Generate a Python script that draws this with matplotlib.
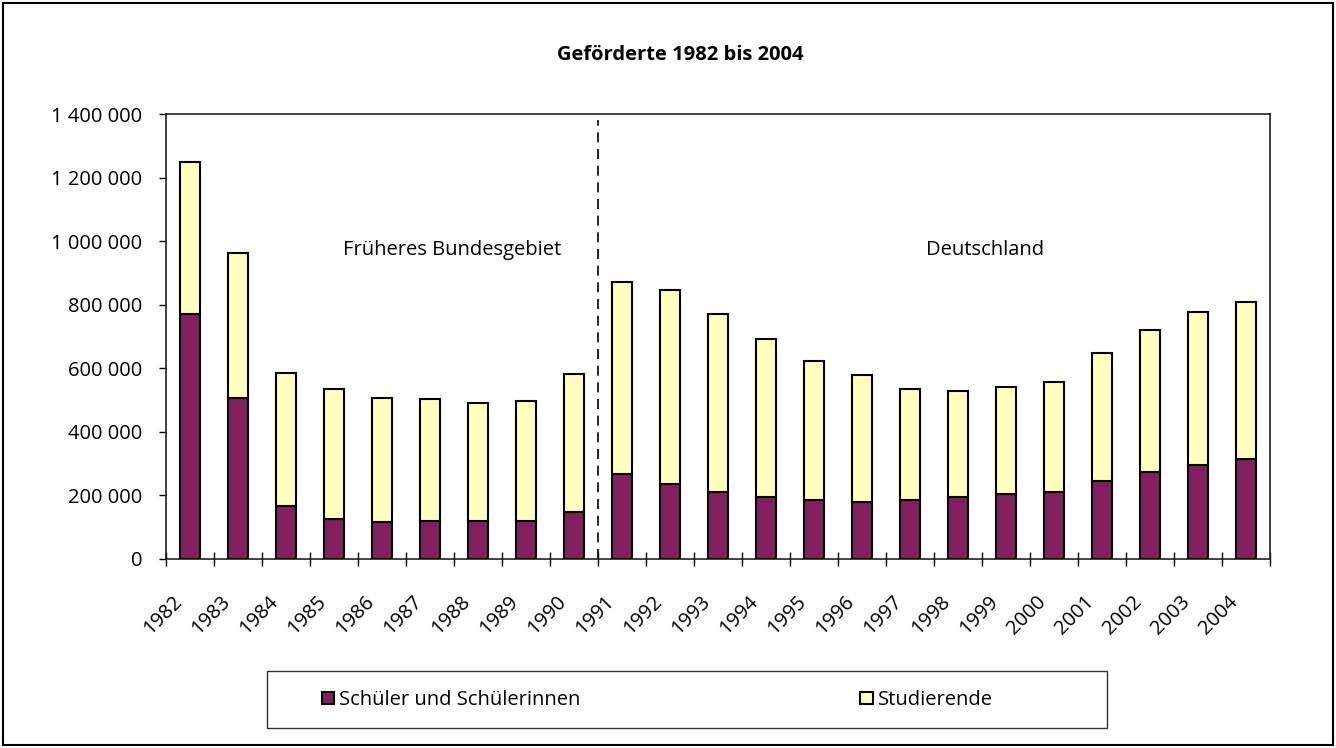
import matplotlib
matplotlib.use("Agg")
import matplotlib.pyplot as plt
import numpy as np
from matplotlib.patches import Rectangle
from matplotlib.transforms import ScaledTranslation
from matplotlib.ticker import FuncFormatter

years = ["1982", "1983", "1984", "1985", "1986", "1987", "1988", "1989", "1990",
         "1991", "1992", "1993", "1994", "1995", "1996", "1997", "1998", "1999",
         "2000", "2001", "2002", "2003", "2004"]
totals = [1250000, 963000, 585000, 536000, 506000, 502000, 491000, 498000, 583000,
          873000, 845000, 770000, 692000, 624000, 578000, 535000, 528000, 542000,
          558000, 648000, 720000, 776000, 807000]
schueler = [771000, 506000, 167000, 126000, 116000, 118000, 121000, 121000, 149000,
            267000, 236000, 210000, 195000, 185000, 180000, 185000, 196000, 204000,
            211000, 246000, 273000, 296000, 314000]
studierende = [t - s for t, s in zip(totals, schueler)]

yticks = [0, 200000, 400000, 600000, 800000, 1000000, 1200000, 1400000]

plt.rcParams['font.family'] = ['Open Sans', 'DejaVu Sans']
PURPLE = "#80205F"
YELLOW = "#FFFFC0"
FS = 14.5

fig = plt.figure(figsize=(13.36, 7.48), dpi=100)
ax = fig.add_axes([166/1336, 1-559/748, (1270-166)/1336, (559-114)/748])

x = np.arange(len(years))
ax.bar(x, schueler, width=0.4, color=PURPLE, edgecolor="black", linewidth=1.5,
       label="Schüler und Schülerinnen", zorder=3)
ax.bar(x, studierende, width=0.4, bottom=schueler, color=YELLOW, edgecolor="black",
       linewidth=1.5, label="Studierende", zorder=3)

ax.set_xlim(-0.5, len(years) - 0.5)
ax.set_ylim(0, 1400000)
ax.set_yticks(yticks)
ax.yaxis.set_major_formatter(FuncFormatter(lambda v, p: f"{int(v):,}".replace(",", " ")))
ax.tick_params(axis='y', direction='out', length=5, width=1, labelsize=FS, pad=12)

ax.set_xticks(np.arange(len(years) + 1) - 0.5)
ax.set_xticklabels(years + [""])
ax.tick_params(axis='x', direction='inout', length=10, width=1, labelsize=FS, pad=0)
for lab in ax.get_xticklabels():
    lab.set_rotation(45)
    lab.set_ha('right')
    lab.set_va('center')
    lab.set_rotation_mode('anchor')
    lab.set_transform(lab.get_transform() + ScaledTranslation(0.13, -0.33, fig.dpi_scale_trans))

for sp in ax.spines.values():
    sp.set_color("#222222")
    sp.set_linewidth(1.2)

# dashed separator between 1990 and 1991
ax.plot([8.5, 8.5], [0, 1380000], color="black", linestyle=(0, (6, 4)), linewidth=1.2, zorder=4)

ax.text(5.46, 972000, "Früheres Bundesgebiet", ha='center', va='center', fontsize=FS)
ax.text(16.56, 972000, "Deutschland", ha='center', va='center', fontsize=FS)

fig.text(680/1336, 1-55/748, "Geförderte 1982 bis 2004", ha='center', va='center',
         fontsize=FS, fontweight='bold')

# legend frame
fig.patches.append(Rectangle((267/1336, 1-728/748), (1107-267)/1336, (728-671)/748,
                             transform=fig.transFigure, fill=False, edgecolor="#333333",
                             linewidth=1.0))
leg = ax.legend(loc='center left', bbox_to_anchor=(322/1336, 1-700/748),
                bbox_transform=fig.transFigure, ncol=2, frameon=False,
                fontsize=FS, handlelength=0.6, handleheight=0.6,
                handletextpad=0.25, columnspacing=13.9, borderpad=0, borderaxespad=0)

# outer frame
fig.patches.append(Rectangle((3/1336, 3/748), 1330/1336, 742/748, transform=fig.transFigure,
                             fill=False, edgecolor="black", linewidth=1.5))

fig.savefig("out.png", dpi=100)
